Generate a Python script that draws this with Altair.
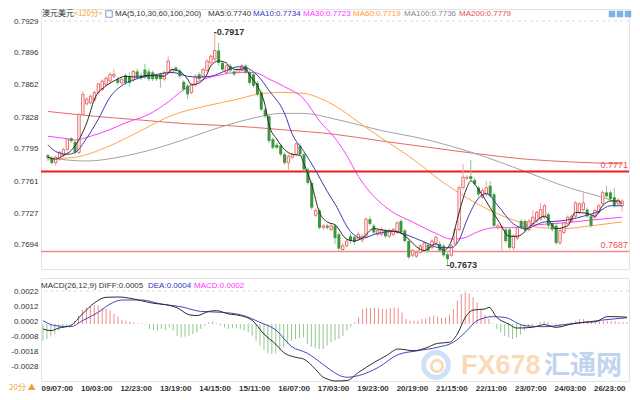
import altair as alt
import pandas as pd

# ---------------- data ----------------
OPEN = [0.7788,0.7785,0.7780,0.7784,0.7788,0.7794,0.7806,0.7802,0.7791,0.7831,
        0.7842,0.7843,0.7846,0.7854,0.7857,0.7862,0.7866,0.7871,0.7868,0.7864,
        0.7872,0.7871,0.7867,0.7876,0.7872,0.7878,0.7876,0.7875,0.7872,0.7873,
        0.7868,0.7875,0.7875,0.7880,0.7877,0.7865,0.7861,0.7854,0.7862,0.7873,
        0.7871,0.7877,0.7885,0.7889,0.7898,0.7885,0.7875,0.7882,0.7876,0.7875,
        0.7877,0.7882,0.7875,0.7873,0.7864,0.7854,0.7836,0.7829,0.7805,0.7799,
        0.7798,0.7789,0.7780,0.7786,0.7789,0.7798,0.7789,0.7773,0.7759,0.7725,
        0.7730,0.7712,0.7714,0.7710,0.7714,0.7705,0.7689,0.7693,0.7703,0.7702,
        0.7700,0.7699,0.7703,0.7721,0.7714,0.7705,0.7705,0.7709,0.7703,0.7705,
        0.7707,0.7719,0.7709,0.7698,0.7683,0.7682,0.7686,0.7688,0.7694,0.7691,
        0.7695,0.7695,0.7693,0.7684,0.7683,0.7695,0.7710,0.7754,0.7764,0.7766,
        0.7762,0.7754,0.7744,0.7747,0.7756,0.7747,0.7712,0.7712,0.7710,0.7710,
        0.7691,0.7701,0.7719,0.7719,0.7710,0.7716,0.7719,0.7721,0.7723,0.7726,
        0.7717,0.7714,0.7696,0.7707,0.7716,0.7719,0.7724,0.7728,0.7731,0.7731,
        0.7724,0.7723,0.7728,0.7737,0.7749,0.7749,0.7744,0.7737,0.7735]
HIGH = [0.7790,0.7787,0.7788,0.7793,0.7796,0.7806,0.7807,0.7804,0.7832,0.7855,
        0.7849,0.7852,0.7856,0.7864,0.7868,0.7871,0.7875,0.7879,0.7870,0.7870,
        0.7874,0.7875,0.7878,0.7879,0.7875,0.7884,0.7879,0.7877,0.7874,0.7875,
        0.7877,0.7892,0.7880,0.7882,0.7879,0.7867,0.7863,0.7864,0.7873,0.7875,
        0.7880,0.7889,0.7894,0.7917,0.7906,0.7887,0.7884,0.7884,0.7878,0.7880,
        0.7884,0.7884,0.7877,0.7875,0.7866,0.7856,0.7838,0.7831,0.7807,0.7801,
        0.7800,0.7791,0.7789,0.7791,0.7801,0.7801,0.7791,0.7775,0.7761,0.7732,
        0.7732,0.7716,0.7716,0.7716,0.7716,0.7707,0.7696,0.7700,0.7706,0.7704,
        0.7708,0.7705,0.7723,0.7724,0.7716,0.7711,0.7713,0.7711,0.7711,0.7712,
        0.7719,0.7721,0.7711,0.7700,0.7690,0.7688,0.7695,0.7698,0.7696,0.7700,
        0.7704,0.7698,0.7695,0.7686,0.7695,0.7712,0.7756,0.7779,0.7767,0.7783,
        0.7764,0.7756,0.7753,0.7761,0.7761,0.7749,0.7716,0.7714,0.7712,0.7712,
        0.7705,0.7714,0.7721,0.7721,0.7721,0.7730,0.7730,0.7738,0.7737,0.7728,
        0.7719,0.7716,0.7711,0.7719,0.7725,0.7726,0.7740,0.7739,0.7749,0.7733,
        0.7726,0.7732,0.7737,0.7751,0.7756,0.7751,0.7754,0.7743,0.7742]
LOW = [0.7782,0.7778,0.7777,0.7782,0.7786,0.7792,0.7801,0.7789,0.7789,0.7829,
       0.7840,0.7841,0.7844,0.7852,0.7855,0.7860,0.7864,0.7869,0.7862,0.7862,
       0.7862,0.7860,0.7865,0.7868,0.7867,0.7868,0.7866,0.7866,0.7866,0.7859,
       0.7866,0.7873,0.7873,0.7875,0.7869,0.7855,0.7847,0.7852,0.7860,0.7866,
       0.7869,0.7875,0.7883,0.7887,0.7882,0.7876,0.7873,0.7875,0.7871,0.7873,
       0.7875,0.7873,0.7862,0.7859,0.7850,0.7834,0.7827,0.7801,0.7794,0.7794,
       0.7787,0.7778,0.7772,0.7784,0.7787,0.7787,0.7771,0.7757,0.7731,0.7723,
       0.7710,0.7710,0.7710,0.7708,0.7695,0.7687,0.7686,0.7691,0.7695,0.7694,
       0.7698,0.7696,0.7701,0.7714,0.7705,0.7703,0.7703,0.7701,0.7701,0.7703,
       0.7705,0.7705,0.7696,0.7679,0.7681,0.7680,0.7684,0.7686,0.7686,0.7689,
       0.7693,0.7686,0.7681,0.7673,0.7681,0.7693,0.7708,0.7752,0.7762,0.7761,
       0.7756,0.7745,0.7742,0.7745,0.7743,0.7712,0.7710,0.7688,0.7696,0.7689,
       0.7688,0.7699,0.7710,0.7707,0.7708,0.7714,0.7717,0.7719,0.7721,0.7712,
       0.7708,0.7694,0.7694,0.7705,0.7714,0.7717,0.7722,0.7726,0.7729,0.7722,
       0.7712,0.7721,0.7726,0.7735,0.7743,0.7740,0.7733,0.7735,0.7729]
CLOSE = [0.7785,0.7780,0.7786,0.7791,0.7794,0.7805,0.7803,0.7791,0.7831,0.7852,
         0.7847,0.7850,0.7854,0.7863,0.7866,0.7869,0.7873,0.7873,0.7864,0.7868,
         0.7864,0.7864,0.7876,0.7870,0.7869,0.7870,0.7868,0.7868,0.7868,0.7868,
         0.7875,0.7887,0.7878,0.7877,0.7871,0.7857,0.7852,0.7862,0.7871,0.7868,
         0.7878,0.7887,0.7892,0.7898,0.7885,0.7878,0.7882,0.7877,0.7873,0.7878,
         0.7882,0.7875,0.7864,0.7861,0.7852,0.7836,0.7829,0.7803,0.7796,0.7796,
         0.7789,0.7780,0.7787,0.7789,0.7800,0.7789,0.7773,0.7759,0.7733,0.7730,
         0.7712,0.7714,0.7712,0.7714,0.7701,0.7690,0.7693,0.7698,0.7698,0.7697,
         0.7705,0.7703,0.7721,0.7716,0.7707,0.7709,0.7710,0.7703,0.7709,0.7710,
         0.7717,0.7707,0.7698,0.7681,0.7688,0.7686,0.7693,0.7696,0.7688,0.7698,
         0.7702,0.7688,0.7683,0.7679,0.7693,0.7710,0.7754,0.7765,0.7765,0.7763,
         0.7758,0.7747,0.7751,0.7754,0.7745,0.7714,0.7714,0.7713,0.7698,0.7691,
         0.7703,0.7712,0.7712,0.7709,0.7719,0.7723,0.7728,0.7731,0.7735,0.7714,
         0.7710,0.7696,0.7709,0.7717,0.7723,0.7724,0.7738,0.7737,0.7738,0.7724,
         0.7714,0.7730,0.7735,0.7749,0.7745,0.7742,0.7735,0.7741,0.7740]

MA5_I = [0,2,4,6,7,10,12,15,17,20,23,26,30,32,34,36,37,39,41,42,44,46,47,49,51,52,54,56,57,59,
         61,63,65,66,68,70,72,74,77,79,81,84,87,90,93,95,97,100,102,104,106,108,109,111,114,116,
         119,121,125,128,131,134,136,139,141,143,145,147,148]
MA5_V = [0.7786,0.7784,0.7788,0.7793,0.7798,0.7822,0.7847,0.7861,0.7866,0.7871,0.7870,0.7872,
         0.7871,0.7878,0.7876,0.7868,0.7862,0.7864,0.7873,0.7882,0.7887,0.7885,0.7880,0.7878,
         0.7879,0.7872,0.7861,0.7840,0.7820,0.7805,0.7794,0.7789,0.7788,0.7779,0.7757,0.7728,
         0.7718,0.7715,0.7700,0.7698,0.7701,0.7711,0.7709,0.7708,0.7700,0.7692,0.7688,0.7695,
         0.7688,0.7698,0.7728,0.7754,0.7761,0.7752,0.7733,0.7720,0.7703,0.7703,0.7716,0.7724,
         0.7711,0.7714,0.7728,0.7727,0.7724,0.7735,0.7740,0.7740,0.7737]
MA10_I = [0,2,5,7,10,13,16,19,22,27,32,36,39,42,46,49,51,54,57,61,63,66,69,72,74,78,81,85,89,
          92,97,101,104,106,108,111,113,116,120,123,128,132,135,138,142,145,148]
MA10_V = [0.7799,0.7792,0.7789,0.7791,0.7806,0.7826,0.7849,0.7861,0.7867,0.7872,0.7875,0.7871,
          0.7870,0.7871,0.7877,0.7881,0.7880,0.7872,0.7856,0.7832,0.7810,0.7792,0.7772,0.7750,
          0.7737,0.7708,0.7701,0.7706,0.7708,0.7705,0.7697,0.7691,0.7691,0.7699,0.7720,0.7743,
          0.7748,0.7735,0.7716,0.7711,0.7718,0.7719,0.7721,0.7724,0.7729,0.7735,0.7735]
MA30_I = [0,4,7,11,16,20,26,31,35,39,44,49,53,57,61,66,70,74,77,80,84,89,94,100,104,107,111,
          115,120,126,133,140,148]
MA30_V = [0.7808,0.7806,0.7804,0.7808,0.7815,0.7822,0.7831,0.7844,0.7857,0.7866,0.7872,0.7875,
          0.7875,0.7868,0.7860,0.7847,0.7824,0.7806,0.7788,0.7766,0.7745,0.7728,0.7718,0.7706,
          0.7700,0.7701,0.7708,0.7712,0.7712,0.7715,0.7717,0.7720,0.7723]
MA60_I = [0,7,16,24,32,41,49,54,60,66,70,74,80,86,92,97,101,105,114,120,127,133,140,148]
MA60_V = [0.7784,0.7786,0.7798,0.7814,0.7830,0.7840,0.7847,0.7852,0.7854,0.7853,0.7848,0.7840,
          0.7823,0.7806,0.7790,0.7775,0.7762,0.7751,0.7730,0.7720,0.7712,0.7711,0.7714,0.7718]
MA100_I = [0,5,10,17,24,34,44,54,60,66,74,86,97,110,123,135,142,148]
MA100_V = [0.7786,0.7783,0.7782,0.7785,0.7791,0.7803,0.7817,0.7828,0.7832,0.7832,0.7826,0.7814,
           0.7805,0.7790,0.7771,0.7753,0.7745,0.7737]
MA200_I = [0,12,24,36,47,60,74,86,97,110,123,135,148]
MA200_V = [0.7834,0.7829,0.7825,0.7821,0.7819,0.7815,0.7810,0.7803,0.7797,0.7790,0.7784,0.7781,0.7779]

HIST = [-0.00111,-0.00100,-0.00084,-0.00067,-0.00044,-0.00027,-0.00018,-0.00004,0.00022,0.00056,
        0.00093,0.00111,0.00118,0.00127,0.00122,0.00104,0.00100,0.00089,0.00067,0.00049,
        0.00027,0.00022,0.00016,0.00011,0.00004,0.00004,-0.00004,-0.00033,-0.00040,-0.00044,
        -0.00033,-0.00040,-0.00022,-0.00044,-0.00078,-0.00089,-0.00084,-0.00078,-0.00067,-0.00056,
        -0.00033,-0.00011,0.00011,0.00018,0.00004,-0.00011,-0.00022,-0.00033,-0.00029,-0.00029,
        -0.00033,-0.00044,-0.00056,-0.00078,-0.00111,-0.00144,-0.00173,-0.00195,-0.00200,-0.00195,
        -0.00178,-0.00155,-0.00133,-0.00111,-0.00100,-0.00093,-0.00089,-0.00133,-0.00151,-0.00160,
        -0.00167,-0.00167,-0.00144,-0.00122,-0.00111,-0.00100,-0.00078,-0.00044,-0.00018,0.00011,
        0.00044,0.00100,0.00107,0.00107,0.00107,0.00107,0.00100,0.00100,0.00107,0.00111,
        0.00107,0.00078,0.00033,0.00022,0.00022,0.00022,0.00033,0.00038,0.00049,0.00056,
        0.00049,0.00040,0.00044,0.00062,0.00100,0.00155,0.00200,0.00211,0.00204,0.00178,
        0.00144,0.00100,0.00062,0.00033,0.00004,-0.00033,-0.00056,-0.00078,-0.00089,-0.00100,
        -0.00089,-0.00071,-0.00044,-0.00027,-0.00011,0.00004,0.00011,0.00018,0.00011,0.00004,
        -0.00018,-0.00022,-0.00011,0.00004,0.00011,0.00022,0.00033,0.00033,0.00022,0.00018,
        0.00011,0.00027,0.00022,0.00022,0.00018,0.00018,0.00011,0.00011,0.00011]
DIFF_I = [0,2,4,7,10,13,16,19,23,25,28,31,34,37,39,42,44,47,50,53,56,59,61,64,66,69,71,72,74,77,
          80,84,87,90,94,97,100,103,105,107,109,112,113,115,118,120,124,127,130,134,137,140,143,145,148]
DIFF_V = [-0.00033,-0.00044,-0.00027,-0.00010,0.00067,0.00140,0.00178,0.00180,0.00167,0.00155,
          0.00138,0.00129,0.00108,0.00062,0.00056,0.00084,0.00089,0.00067,0.00056,0.00025,
          -0.00067,-0.00135,-0.00190,-0.00222,-0.00233,-0.00300,-0.00355,-0.00366,-0.00380,-0.00377,
          -0.00322,-0.00255,-0.00211,-0.00167,-0.00178,-0.00160,-0.00129,-0.00122,-0.00067,0.00044,
          0.00093,0.00100,0.00111,0.00044,0.00000,-0.00027,-0.00022,-0.00004,-0.00022,0.00000,
          0.00011,0.00015,0.00049,0.00049,0.00045]
DEA_I = [0,3,7,10,14,17,20,25,30,35,40,45,50,55,59,63,67,71,72,77,80,85,90,95,100,104,107,110,
         114,117,122,127,132,137,142,148]
DEA_V = [0.00022,-0.00011,-0.00018,0.00022,0.00078,0.00133,0.00160,0.00160,0.00133,0.00115,
         0.00084,0.00078,0.00062,0.00011,-0.00040,-0.00150,-0.00195,-0.00270,-0.00290,-0.00355,
         -0.00344,-0.00289,-0.00204,-0.00178,-0.00155,-0.00122,-0.00056,0.00022,0.00049,0.00044,
         -0.00011,-0.00018,-0.00004,0.00011,0.00027,0.00042]

X_LABELS = ["09/07:00", "10/03:00", "12/23:00", "13/19:00", "14/15:00", "15/11:00", "16/07:00",
            "17/03:00", "19/23:00", "20/19:00", "21/15:00", "22/11:00", "23/07:00", "24/03:00",
            "26/23:00"]
X_LABEL_POS = [3.5 + 10 * k for k in range(len(X_LABELS))]
Y_TICKS = [0.7929, 0.7896, 0.7862, 0.7828, 0.7795, 0.7761, 0.7727, 0.7694]
MACD_TICKS = [0.0022, 0.0012, 0.0002, -0.0008, -0.0018, -0.0028]
LEVELS = [0.7771, 0.7687]
HIGH_MARK = (43, 0.7917)
LOW_MARK = (103, 0.7673)

# ---------------- layout / style ----------------
W, H_MAIN, H_MACD = 588, 260, 103
FONT = "Liberation Sans, Arial, 'Noto Sans CJK SC', sans-serif"
CJK = "'Noto Sans CJK SC', 'Liberation Sans', sans-serif"

xs = alt.Scale(domain=[-0.5, 148.5], nice=False, zero=False)
ys = alt.Scale(domain=[0.76686, 0.79416], nice=False, zero=False)
ms = alt.Scale(domain=[-0.0038, 0.003067], nice=False, zero=False)

yax = alt.Axis(values=Y_TICKS, format=".4f", title=None, ticks=False, domain=False, grid=False,
               labelFont=FONT, labelFontSize=8, labelColor="#333333", labelPadding=3,
               labelFlush=False, labelOverlap=False)
max_ = alt.Axis(values=MACD_TICKS, labelExpr="replace(format(datum.value, '.4f'), '\u2212', '-')",
                title=None, ticks=False, domain=False, grid=False, labelFont=FONT, labelFontSize=8,
                labelColor="#333333", labelPadding=3, labelFlush=False, labelOverlap=False)
lab_arr = "[" + ",".join("'" + s + "'" for s in X_LABELS) + "]"
xax = alt.Axis(values=X_LABEL_POS, labelExpr=lab_arr + "[round((datum.value - 3.5) / 10)]",
               title=None, ticks=False, domain=False, grid=False, labelFont=FONT, labelFontSize=8,
               labelFontWeight="bold", labelColor="#333333", labelPadding=3,
               labelFlush=False, labelOverlap=False)

X = alt.X("i:Q", scale=xs, axis=None)
XM = alt.X("i:Q", scale=xs, axis=xax)

N = len(OPEN)
cdf = pd.DataFrame({"i": list(range(N)), "o": OPEN, "h": HIGH, "l": LOW, "c": CLOSE})
up = cdf[cdf.c >= cdf.o]
dn = cdf[cdf.c < cdf.o]

layers = []
layers.append(alt.Chart(pd.DataFrame({"v": [Y_TICKS[0]]})).mark_rule(
    color="#dcdcdc", strokeDash=[3, 3], strokeWidth=1).encode(y=alt.Y("v:Q", scale=ys, axis=yax)))
MA_SPECS = [(MA200_I, MA200_V, "#e46a6a"), (MA100_I, MA100_V, "#a3a3a3"),
            (MA60_I, MA60_V, "#ffa347"), (MA30_I, MA30_V, "#ff3dff")]
for mi, mv, col in MA_SPECS:
    layers.append(alt.Chart(pd.DataFrame({"i": mi, "v": mv})).mark_line(
        color=col, strokeWidth=1, interpolate="monotone").encode(x=X, y=alt.Y("v:Q", scale=ys, axis=yax)))
layers.append(alt.Chart(pd.DataFrame({"v": [LEVELS[0]]})).mark_rule(color="#ee1c1c", strokeWidth=2)
              .encode(y=alt.Y("v:Q", scale=ys, axis=yax)))
layers.append(alt.Chart(pd.DataFrame({"v": [LEVELS[1]]})).mark_rule(color="#f38a8a", strokeWidth=1.5)
              .encode(y=alt.Y("v:Q", scale=ys, axis=yax)))
lv = pd.DataFrame({"v": LEVELS, "t": ["%.4f" % v for v in LEVELS]})
layers.append(alt.Chart(lv).mark_text(align="right", baseline="middle", dy=-6, color="#f05050",
                                      font=FONT, fontSize=9)
              .encode(x=alt.value(W - 1), y=alt.Y("v:Q", scale=ys, axis=yax), text="t:N"))
layers.append(alt.Chart(up).mark_rule(color="#f2a3a3", strokeWidth=1)
              .encode(x=X, y=alt.Y("l:Q", scale=ys, axis=yax), y2="h:Q"))
layers.append(alt.Chart(dn).mark_rule(color="#8cc68c", strokeWidth=1)
              .encode(x=X, y=alt.Y("l:Q", scale=ys, axis=yax), y2="h:Q"))
layers.append(alt.Chart(up).mark_bar(size=2.4, fill="#ffffff", stroke="#e86a6a", strokeWidth=1)
              .encode(x=X, y=alt.Y("o:Q", scale=ys, axis=yax), y2="c:Q"))
layers.append(alt.Chart(dn).mark_bar(size=3, color="#3d963d")
              .encode(x=X, y=alt.Y("o:Q", scale=ys, axis=yax), y2="c:Q"))
for mi, mv, col in [(MA10_I, MA10_V, "#3b3bb3"), (MA5_I, MA5_V, "#2b2b2b")]:
    layers.append(alt.Chart(pd.DataFrame({"i": mi, "v": mv})).mark_line(
        color=col, strokeWidth=1, interpolate="monotone").encode(x=X, y=alt.Y("v:Q", scale=ys, axis=yax)))
ann = pd.DataFrame({"i": [HIGH_MARK[0], LOW_MARK[0]], "v": [HIGH_MARK[1], LOW_MARK[1]],
                    "t": ["-%.4f" % HIGH_MARK[1], "-%.4f" % LOW_MARK[1]]})
layers.append(alt.Chart(ann).mark_text(align="left", baseline="middle", dx=-1, font=FONT, fontSize=9,
                                       fontWeight="bold", color="#333333")
              .encode(x=X, y=alt.Y("v:Q", scale=ys, axis=yax), text="t:N"))
TITLE = [("澳元美元", 1, "#333333", 8, CJK), ("<120分>", 33, "#f0a030", 7.5, CJK),
         ("MA(5,10,30,60,100,200)", 74, "#333333", 8, FONT), ("MA5:0.7740", 167, "#333333", 8, FONT),
         ("MA10:0.7734", 212, "#3333bb", 8, FONT), ("MA30:0.7723", 262, "#ff33ff", 8, FONT),
         ("MA60:0.7719", 312, "#ff9933", 8, FONT), ("MA100:0.7736", 363, "#888888", 8, FONT),
         ("MA200:0.7779", 418, "#e05050", 8, FONT)]
for t, px, col, fs, fnt in TITLE:
    layers.append(alt.Chart(pd.DataFrame({"t": [t]})).mark_text(
        align="left", baseline="middle", font=fnt, fontSize=fs, color=col)
        .encode(x=alt.value(px), y=alt.value(5), text="t:N"))
layers.append(alt.Chart(pd.DataFrame({"t": ["icon"]})).mark_square(
    size=42, filled=False, stroke="#3d6fc4", strokeWidth=1).encode(x=alt.value(68), y=alt.value(5)))
for px in [571, 579, 587]:
    layers.append(alt.Chart(pd.DataFrame({"t": ["btn"]})).mark_square(
        size=42, filled=True, color="#4a8fd8").encode(x=alt.value(px), y=alt.value(5)))

main = alt.layer(*layers).properties(width=W, height=H_MAIN)

hdf = pd.DataFrame({"i": list(range(N)), "h": HIST})
mlayers = []
mlayers.append(alt.Chart(pd.DataFrame({"t": ["c"]})).mark_point(
    shape="circle", size=620, filled=False, stroke="#a9c9ee", strokeWidth=5, opacity=0.55)
    .encode(x=alt.value(395), y=alt.value(87)))
mlayers.append(alt.Chart(pd.DataFrame({"t": ["c"]})).mark_point(
    shape="circle", size=130, filled=False, stroke="#f6c28a", strokeWidth=3, opacity=0.6)
    .encode(x=alt.value(396), y=alt.value(88)))
mlayers.append(alt.Chart(pd.DataFrame({"t": ["FX678"]})).mark_text(
    align="left", baseline="middle", font=FONT, fontSize=27, fontWeight="bold",
    color="#f7c48c", opacity=0.6).encode(x=alt.value(420), y=alt.value(88), text="t:N"))
mlayers.append(alt.Chart(pd.DataFrame({"t": ["汇通网"]})).mark_text(
    align="left", baseline="middle", font=CJK, fontSize=26, fontWeight="bold",
    color="#a6c2ea", opacity=0.7).encode(x=alt.value(503), y=alt.value(88), text="t:N"))
mlayers.append(alt.Chart(pd.DataFrame({"v": [MACD_TICKS[0]]})).mark_rule(
    color="#dcdcdc", strokeDash=[3, 3], strokeWidth=1).encode(y=alt.Y("v:Q", scale=ms, axis=max_)))
mlayers.append(alt.Chart(hdf[hdf.h >= 0]).mark_rule(color="#f08a8a", strokeWidth=1)
               .encode(x=XM, y=alt.Y("h:Q", scale=ms, axis=max_), y2=alt.datum(0)))
mlayers.append(alt.Chart(hdf[hdf.h < 0]).mark_rule(color="#8fc88f", strokeWidth=1)
               .encode(x=XM, y=alt.Y("h:Q", scale=ms, axis=max_), y2=alt.datum(0)))
for mi, mv, col in [(DEA_I, DEA_V, "#4646c2"), (DIFF_I, DIFF_V, "#2b2b2b")]:
    mlayers.append(alt.Chart(pd.DataFrame({"i": mi, "v": mv})).mark_line(
        color=col, strokeWidth=1, interpolate="monotone").encode(x=XM, y=alt.Y("v:Q", scale=ms, axis=max_)))
MTITLE = [("MACD(26,12,9) DIFF:0.0005", 0, "#333333"), ("DEA:0.0004", 107, "#3333bb"),
          ("MACD:0.0002", 153, "#ff33ff")]
for t, px, col in MTITLE:
    mlayers.append(alt.Chart(pd.DataFrame({"t": [t]})).mark_text(
        align="left", baseline="middle", font=FONT, fontSize=8, color=col)
        .encode(x=alt.value(px), y=alt.value(8), text="t:N"))
mlayers.append(alt.Chart(pd.DataFrame({"t": ["20分 ▲"]})).mark_text(
    align="left", baseline="middle", font=CJK, fontSize=8, color="#f0a030")
    .encode(x=alt.value(-32), y=alt.value(H_MACD + 7), text="t:N"))

macd = alt.layer(*mlayers).properties(width=W, height=H_MACD)

chart = alt.vconcat(main, macd, spacing=6).properties(padding=0).configure_view(
    stroke="#e3e3e3", strokeWidth=1)

chart.save("out.html", embed_options={"renderer": "svg", "actions": False})
